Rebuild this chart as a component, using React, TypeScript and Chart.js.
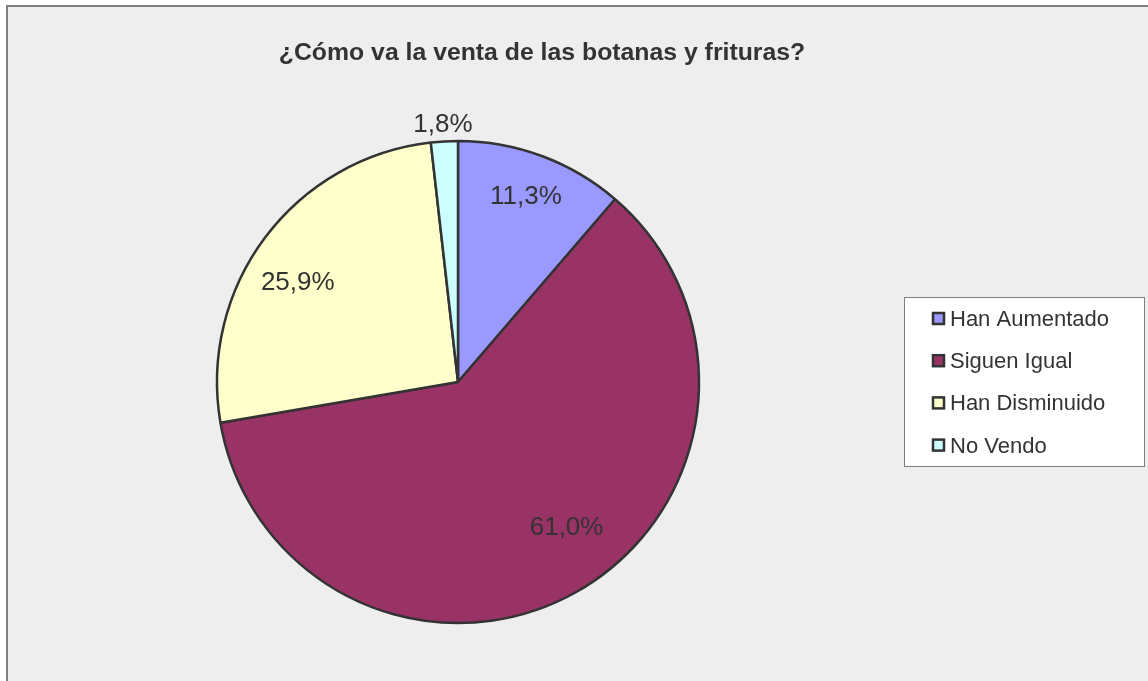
import React, { useEffect, useRef } from "react";
import { Chart, registerables } from "chart.js";

Chart.register(...registerables);

const chartTitle = "¿Cómo va la venta de las botanas y frituras?";
const categories = ["Han Aumentado", "Siguen Igual", "Han Disminuido", "No Vendo"];
const values = [11.3, 61.0, 25.9, 1.8];
const sliceColors = ["#9999FF", "#993366", "#FFFFCC", "#CCFFFF"];

const FONT = '"Liberation Sans", Arial, Helvetica, sans-serif';
const TEXT = "#333333";

// label placement style: [radius factor, angle shift in degrees]
const labelPlacement = [
  [0.822, -0.3],
  [0.75, -7.4],
  [0.785, -4.8],
  [1.072, -0.1],
];

const fmt = (v: number) => v.toFixed(1).replace(".", ",") + "%";

const decorPlugin = {
  id: "decor",
  afterDatasetsDraw(chart: any) {
    const ctx = chart.ctx;
    const meta = chart.getDatasetMeta(0);
    ctx.save();
    ctx.fillStyle = TEXT;
    ctx.font = `26px ${FONT}`;
    ctx.textAlign = "center";
    ctx.textBaseline = "middle";
    meta.data.forEach((arc: any, i: number) => {
      const p = arc.getProps(["x", "y", "startAngle", "endAngle", "outerRadius"], true);
      const [f, shift] = labelPlacement[i];
      const mid = (p.startAngle + p.endAngle) / 2 + (shift * Math.PI) / 180;
      const r = p.outerRadius * f;
      ctx.fillText(fmt(values[i]), p.x + Math.cos(mid) * r, p.y + Math.sin(mid) * r + 1);
    });
    ctx.restore();
  },
  afterDraw(chart: any) {
    const ctx = chart.ctx;
    ctx.save();
    // title
    ctx.fillStyle = TEXT;
    ctx.font = `bold 24.8px ${FONT}`;
    ctx.textAlign = "center";
    ctx.textBaseline = "alphabetic";
    ctx.fillText(chartTitle, 542, 60);

    // legend box
    const bx = 904.5, by = 297.5, bw = 240, bh = 169;
    ctx.fillStyle = "#FFFFFF";
    ctx.fillRect(bx, by, bw, bh);
    ctx.strokeStyle = "#7F7F7F";
    ctx.lineWidth = 1;
    ctx.strokeRect(bx, by, bw, bh);

    ctx.font = `22px ${FONT}`;
    ctx.textAlign = "left";
    ctx.textBaseline = "middle";
    categories.forEach((c, i) => {
      const cy = 319 + i * 42.2;
      ctx.fillStyle = sliceColors[i];
      ctx.fillRect(933, cy - 6, 11, 11);
      ctx.strokeStyle = "#333333";
      ctx.lineWidth = 2.5;
      ctx.strokeRect(933, cy - 6, 11, 11);
      ctx.fillStyle = TEXT;
      ctx.fillText(c, 950, cy + 1);
    });
    ctx.restore();
  },
};

export default function App() {
  const canvasRef = useRef<HTMLCanvasElement | null>(null);

  useEffect(() => {
    document.body.style.margin = "0";
    const canvas = canvasRef.current;
    if (!canvas) return;
    const chart = new Chart(canvas, {
      type: "pie",
      data: {
        labels: categories,
        datasets: [
          {
            data: values,
            backgroundColor: sliceColors,
            borderColor: "#333333",
            borderWidth: 2.5,
            borderAlign: "center",
          } as any,
        ],
      },
      options: {
        responsive: false,
        animation: false,
        devicePixelRatio: 1,
        radius: 241,
        layout: { padding: { left: 216, right: 448, top: 140, bottom: 57 } },
        plugins: {
          legend: { display: false },
          title: { display: false },
          tooltip: { enabled: false },
        },
        events: [],
      } as any,
      plugins: [decorPlugin],
    });
    return () => chart.destroy();
  }, []);

  return (
    <div style={{ position: "relative", width: 1148, height: 681, overflow: "hidden", background: "#FFFFFF" }}>
      <div
        style={{
          position: "absolute",
          left: 6,
          top: 5,
          width: 1250,
          height: 760,
          background: "#EEEEEE",
          borderLeft: "2px solid #808080",
          borderTop: "2px solid #808080",
        }}
      />
      <canvas
        ref={canvasRef}
        width={1148}
        height={681}
        style={{ position: "absolute", left: 0, top: 0, width: 1148, height: 681 }}
      />
    </div>
  );
}
